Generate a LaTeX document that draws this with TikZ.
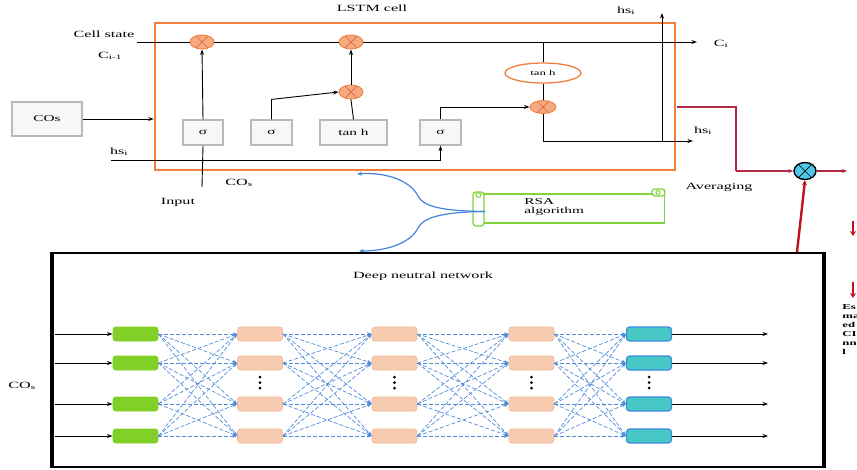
\documentclass[tikz,border=0pt]{standalone}
\usepackage{fontspec}
\setmainfont{Liberation Serif}[FakeStretch=1.7]
\usetikzlibrary{shapes.geometric,arrows.meta,calc}
\definecolor{lorange}{RGB}{240,128,60}
\definecolor{mfill}{RGB}{246,170,130}
\definecolor{mcross}{RGB}{225,95,55}
\definecolor{peach}{RGB}{248,204,176}
\definecolor{peachb}{RGB}{244,184,150}
\definecolor{lgreen}{RGB}{128,208,40}
\definecolor{tealf}{RGB}{72,200,196}
\definecolor{tealb}{RGB}{60,140,225}
\definecolor{dblue}{RGB}{80,140,220}
\definecolor{maroonc}{RGB}{180,40,70}
\definecolor{redc}{RGB}{190,20,30}
\definecolor{scrollg}{RGB}{130,210,60}
\definecolor{avgc}{RGB}{80,200,235}
\definecolor{curveb}{RGB}{70,130,225}
\tikzset{
  lbl/.style={font=\fontsize{9.5}{10.5}\selectfont, inner sep=0pt},
  arr/.style={-{Stealth[length=5.5pt,width=4pt]}},
  gate/.style={draw=gray!55, fill=gray!6, line width=1.2pt, minimum height=25pt, inner sep=0pt, font=\fontsize{9}{10}\selectfont},
  mult/.style={ellipse, draw=lorange, fill=mfill, minimum width=24pt, minimum height=14pt, inner sep=0pt,
    path picture={\draw[mcross, line width=0.7pt]
      ($(path picture bounding box.center)+(-6,-6)$) -- ($(path picture bounding box.center)+(6,6)$)
      ($(path picture bounding box.center)+(-6,6)$) -- ($(path picture bounding box.center)+(6,-6)$);}},
  neuron/.style={rounded corners=3pt, minimum width=45pt, minimum height=14pt, inner sep=0pt},
  l1/.style={neuron, fill=lgreen, draw=lgreen},
  lh/.style={neuron, fill=peach, draw=peachb, line width=0.8pt},
  l5/.style={neuron, fill=tealf, draw=tealb, line width=1.2pt},
  conn/.style={dblue, dash pattern=on 4pt off 2pt, line width=0.7pt, -{Stealth[length=4.5pt,width=3.5pt]}},
}
\begin{document}
\begin{tikzpicture}[x=1pt,y=-1pt, line width=0.9pt]
\useasboundingbox (0,0) rectangle (857,469);
% ---------- LSTM cell ----------
\node[draw=lorange, line width=2.5pt, minimum width=520pt, minimum height=147pt, inner sep=0pt] (lstm) at (415,96.5) {};
\node[lbl] (title) at (372,8) {LSTM cell};
\node[lbl] (cstate) at (104,34) {Cell state};
\node[lbl] (cim) at (110,56) {C\textsubscript{i-1}};
\node[lbl] (ci) at (721,44) {C\textsubscript{i}};
\node[lbl] (hsl) at (119,152) {hs\textsubscript{i}};
\node[lbl] (hstop) at (626,11) {hs\textsubscript{i}};
\node[lbl] (hsr) at (703,131) {hs\textsubscript{i}};
\node[lbl] (cosb) at (239,183) {CO\textsubscript{s}};
\node[lbl] (inp) at (178,202) {Input};
\node[lbl] (avgl) at (719,187) {Averaging};

\node[gate, minimum width=70pt, minimum height=34pt] (cos) at (47,119) {COs};
\node[gate, minimum width=40pt] (g1) at (203,132.5) {σ};
\node[gate, minimum width=41pt] (g2) at (271.5,132.5) {σ};
\node[gate, minimum width=67pt] (g3) at (353.5,132.5) {tan h};
\node[gate, minimum width=41pt] (g4) at (440.5,132.5) {σ};

\node[mult] (m1) at (202,42) {};
\node[mult] (m2) at (351,42) {};
\node[mult] (m3) at (351,92) {};
\node[mult, minimum width=26pt, minimum height=13pt] (m4) at (543,107) {};
\node[ellipse, draw=lorange, fill=white, line width=1.3pt, minimum width=76pt, minimum height=20pt, inner sep=0pt, font=\fontsize{7.5}{9}\selectfont] (th) at (543,73) {tan h};

\coordinate (cs0) at (137,42);
\coordinate (cs1) at (697,42);
\coordinate (br) at (543,42);
\coordinate (in0) at (202,187);
\coordinate (hs0) at (111,160);
\coordinate (hout) at (693,141);
\coordinate (hv0) at (662,141);
\coordinate (hv1) at (662,13);

\draw (cs0) -- (m1) -- (m2);
\draw[arr] (m2) -- (cs1);
\draw (br) -- (th.north);
\draw[arr] (cos.east) -- (cos.east -| lstm.west);
\draw (in0) -- (g1.south);
\draw[arr] (g1.north) -- (m1.south);
\draw[arr] (g2.north) -- ++(0,-20) -- (m3.west);
\draw (g3.north) -- (m3.south);
\draw[arr] (m3.north) -- (m2.south);
\draw[arr] (hs0) -| (g4.south);
\draw[arr] (g4.north) |- (m4.west);
\draw (th.south) -- (m4.north);
\draw[arr] (m4.south) |- (hout);
\draw[arr] (hv0) -- (hv1);

% ---------- averaging ----------
\node[ellipse, draw=black, fill=avgc, line width=1.4pt, minimum width=22pt, minimum height=17pt, inner sep=0pt,
  path picture={\draw[black, line width=0.7pt]
      ($(path picture bounding box.center)+(-6,-6)$) -- ($(path picture bounding box.center)+(6,6)$)
      ($(path picture bounding box.center)+(-6,6)$) -- ($(path picture bounding box.center)+(6,-6)$);}] (avg) at (805,171) {};
\coordinate (mr0) at (677,107);
\coordinate (mr1) at (736,107);
\coordinate (mr2) at (736,171);
\coordinate (aout) at (847,171);
\coordinate (rb) at (797,252);
\draw[maroonc, line width=1.3pt] (mr0) -- (mr1) -- (mr2);
\draw[maroonc, line width=1.3pt, -{Stealth[length=5pt,width=4pt]}] (mr2) -- (avg.west);
\draw[maroonc, line width=1.1pt, -{Stealth[length=5pt,width=4pt]}] (avg.east) -- (aout);
\draw[redc, line width=2.4pt, -{Stealth[length=5pt,width=5pt]}] (rb) -- (avg.south);

% red small arrows at right
\coordinate (ra0) at (853,221);
\coordinate (ra1) at (853,236);
\coordinate (rc0) at (853,282);
\coordinate (rc1) at (853,298);
\draw[redc, line width=1.8pt, -{Stealth[length=5pt,width=6pt]}] (ra0) -- (ra1);
\draw[redc, line width=1.8pt, -{Stealth[length=5pt,width=6pt]}] (rc0) -- (rc1);
\node[font=\fontsize{7.5}{9}\selectfont\bfseries, anchor=north west, align=left, inner sep=0pt] (etxt) at (842,304) {Es\\ma\\ed\\CI\\nn\\l};

% ---------- RSA scroll ----------
\node[draw=scrollg, line width=1.3pt, minimum width=185pt, minimum height=29pt, inner sep=0pt] (rsa) at (572,208.5) {};
\draw[scrollg, line width=1.3pt, fill=white, rounded corners=3pt] (473,192) rectangle (484,226);
\draw[scrollg, line width=1pt] (478.5,195) circle (2.5);
\draw[scrollg, line width=1.3pt, fill=white, rounded corners=3pt] (652,189) rectangle (665,196);
\draw[scrollg, line width=1pt] (658,192.5) circle (2);
\node[lbl, anchor=west, align=left, font=\fontsize{9}{9}\selectfont] (rsat) at (524,207) {RSA\\algorithm};

\coordinate (cup) at (357,174);
\coordinate (cdn) at (359,251);
\draw[curveb, line width=1.2pt, -{Stealth[length=5pt,width=4pt]}] ($(rsa.west)+(6,3)$) .. controls (440,211) and (423,206) .. (418,196) .. controls (410,180) and (385,172) .. (cup);
\draw[curveb, line width=1.2pt, -{Stealth[length=5pt,width=4pt]}] ($(rsa.west)+(6,3)$) .. controls (440,212) and (423,218) .. (418,228) .. controls (410,244) and (385,251) .. (cdn);

% ---------- Deep network ----------
\node[draw=black, line width=2pt, minimum width=770pt, minimum height=214pt, inner sep=0pt] (dnn) at (437.5,359.5) {};
\draw[line width=4pt] (dnn.north west) -- (dnn.south west);
\draw[line width=4pt] (dnn.north east) -- (dnn.south east);
\node[lbl] (dtitle) at (423,276) {Deep neutral network};
\node[lbl] (cosl) at (22,386) {CO\textsubscript{s}};

\foreach \i/\y in {1/334,2/363,3/404,4/436} {
  \node[l1] (n1-\i) at (135.5,\y) {};
  \node[lh] (n2-\i) at (260,\y) {};
  \node[lh] (n3-\i) at (394.5,\y) {};
  \node[lh] (n4-\i) at (531.5,\y) {};
  \node[l5] (n5-\i) at (649,\y) {};
  \coordinate (in-\i) at (55,\y);
  \coordinate (out-\i) at (768,\y);
  \draw[arr] (in-\i) -- (n1-\i.west);
  \draw[arr] (n5-\i.east) -- (out-\i);
}
\foreach \a/\b in {1/2,2/3,3/4,4/5} {
  \foreach \i in {1,...,4} {
    \foreach \j in {1,...,4} {
      \draw[conn] (n\a-\i.east) -- (n\b-\j.west);
    }
  }
}
\foreach \x in {260,394.5,531.5,649} {
  \fill (\x,377) circle (1.5);
  \fill (\x,382.5) circle (1.5);
  \fill (\x,388) circle (1.5);
}
\end{tikzpicture}
\end{document}
